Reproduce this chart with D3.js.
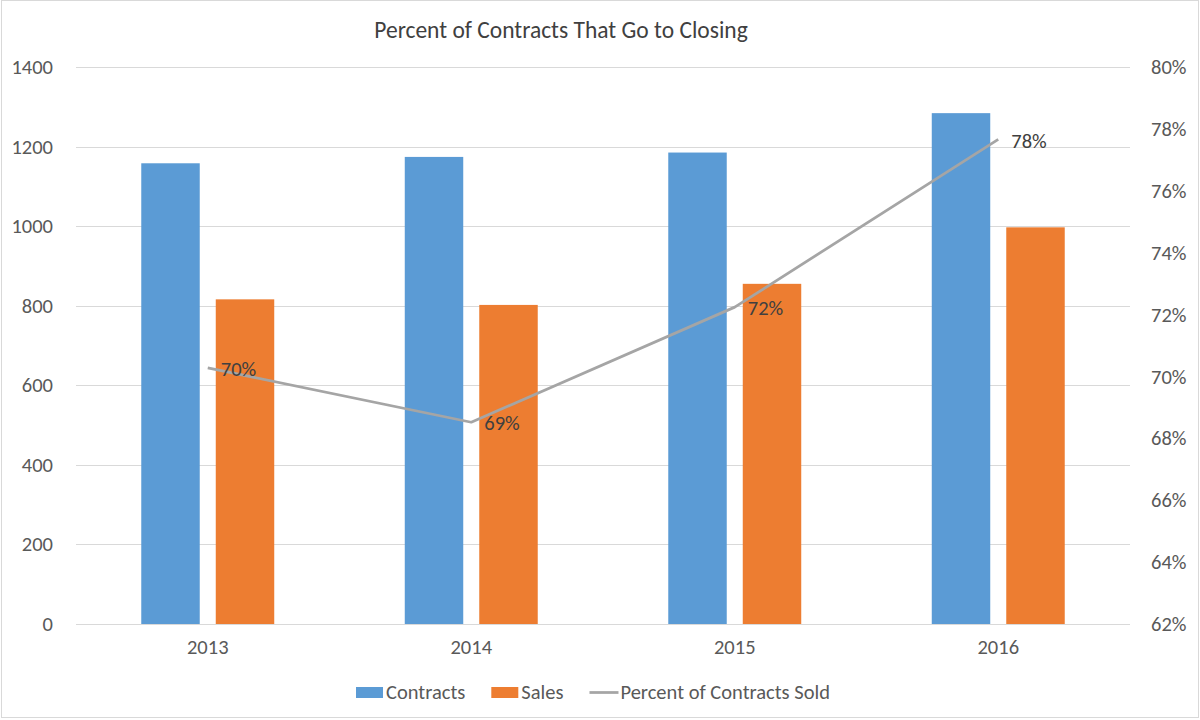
<!DOCTYPE html>
<html>
<head>
<meta charset="utf-8">
<script src="https://cdn.jsdelivr.net/npm/d3@7"></script>
<style>
  body { margin: 0; background: #fff; }
  svg text { font-family: Calibri, Carlito, Lato, sans-serif; }
</style>
</head>
<body>
<div id="chart"></div>
<script>
// data
let years = ["2013", "2014", "2015", "2016"];
let contracts = [1158, 1174, 1185, 1284];
let sales = [816, 802, 855, 997];
let percentSold = [0.7028, 0.6852, 0.7224, 0.7766];
let leftTicks = [0, 200, 400, 600, 800, 1000, 1200, 1400];
let rightTicks = [0.62, 0.64, 0.66, 0.68, 0.70, 0.72, 0.74, 0.76, 0.78, 0.80];
let seriesNames = ["Contracts", "Sales", "Percent of Contracts Sold"];

let width = 1200, height = 720;
let margin = {top: 67, right: 70, bottom: 96, left: 76};
let blue = "#5B9BD5", orange = "#ED7D31", gray = "#A5A5A5";
let gridColor = "#D9D9D9", tickColor = "#595959";
let fontSize = "20.5px";

let svg = d3.select("#chart")
  .append("svg")
  .attr("width", width)
  .attr("height", height);

// outer chart border
svg.append("rect")
  .attr("x", 1.5).attr("y", 0.5)
  .attr("width", width - 3).attr("height", height - 3)
  .attr("fill", "#fff")
  .attr("stroke", gridColor);

let x0 = d3.scaleBand()
  .domain(years)
  .range([margin.left, width - margin.right]);

let x1 = d3.scaleBand()
  .domain(["contracts", "sales"])
  .range([0, x0.bandwidth()])
  .paddingInner(0.215)
  .paddingOuter(0.876);

let y = d3.scaleLinear()
  .domain([0, 1400])
  .range([height - margin.bottom, margin.top]);

let y2 = d3.scaleLinear()
  .domain([0.62, 0.80])
  .range([height - margin.bottom, margin.top]);

// gridlines
svg.append("g")
  .selectAll("line")
  .data(leftTicks)
  .enter().append("line")
  .attr("x1", margin.left)
  .attr("x2", width - margin.right)
  .attr("y1", d => Math.round(y(d)) + 0.5)
  .attr("y2", d => Math.round(y(d)) + 0.5)
  .attr("stroke", gridColor)
  .attr("stroke-width", 1);

// left axis
let leftAxis = svg.append("g")
  .attr("transform", "translate(" + (margin.left - 23) + ",0)")
  .call(d3.axisLeft(y).tickValues(leftTicks).tickFormat(d3.format("d")).tickSize(0).tickPadding(0));
leftAxis.select(".domain").remove();
leftAxis.selectAll("text")
  .attr("fill", tickColor)
  .style("font-size", fontSize);

// right axis
let rightAxis = svg.append("g")
  .attr("transform", "translate(" + (width - margin.right + 21) + ",0)")
  .call(d3.axisRight(y2).tickValues(rightTicks).tickFormat(d3.format(".0%")).tickSize(0).tickPadding(0));
rightAxis.select(".domain").remove();
rightAxis.selectAll("text")
  .attr("fill", tickColor)
  .style("font-size", fontSize);

// bottom axis labels
let bottomAxis = svg.append("g")
  .attr("transform", "translate(0," + (height - margin.bottom + 15) + ")")
  .call(d3.axisBottom(x0).tickSize(0).tickPadding(0));
bottomAxis.select(".domain").remove();
bottomAxis.selectAll("text")
  .attr("fill", tickColor)
  .attr("dy", "0.75em")
  .style("font-size", fontSize);

// bars
let groups = svg.append("g")
  .selectAll("g")
  .data(years)
  .enter().append("g")
  .attr("transform", d => "translate(" + x0(d) + ",0)");

groups.append("rect")
  .attr("x", x1("contracts"))
  .attr("width", x1.bandwidth())
  .attr("y", (d, i) => y(contracts[i]))
  .attr("height", (d, i) => y(0) - y(contracts[i]))
  .attr("fill", blue);

groups.append("rect")
  .attr("x", x1("sales"))
  .attr("width", x1.bandwidth())
  .attr("y", (d, i) => y(sales[i]))
  .attr("height", (d, i) => y(0) - y(sales[i]))
  .attr("fill", orange);

// percent line
let cx = d => x0(d) + x0.bandwidth() / 2;
let line = d3.line()
  .x((d, i) => cx(years[i]))
  .y(d => y2(d));

svg.append("path")
  .datum(percentSold)
  .attr("d", line)
  .attr("fill", "none")
  .attr("stroke", gray)
  .attr("stroke-width", 2.75)
  .attr("stroke-linejoin", "round");

svg.append("g")
  .selectAll("text")
  .data(percentSold)
  .enter().append("text")
  .attr("x", (d, i) => cx(years[i]) + 13)
  .attr("y", d => y2(d) + 1)
  .attr("dy", "0.35em")
  .attr("fill", "#404040")
  .style("font-size", fontSize)
  .text(d => d3.format(".0%")(d));

// title
svg.append("text")
  .attr("x", 561)
  .attr("y", 38)
  .attr("text-anchor", "middle")
  .attr("fill", "#404040")
  .style("font-size", "23.5px")
  .text("Percent of Contracts That Go to Closing");

// legend
let legend = svg.append("g");
let lx = 0;
seriesNames.forEach(function(name, i) {
  let item = legend.append("g").attr("transform", "translate(" + lx + ",0)");
  if (i < 2) {
    item.append("rect")
      .attr("x", 0).attr("y", -5)
      .attr("width", 27).attr("height", 11)
      .attr("fill", i === 0 ? blue : orange);
  } else {
    item.append("line")
      .attr("x1", 0).attr("x2", 29)
      .attr("y1", 0.5).attr("y2", 0.5)
      .attr("stroke", gray)
      .attr("stroke-width", 2.75);
  }
  let t = item.append("text")
    .attr("x", i < 2 ? 30 : 31)
    .attr("dy", "0.35em")
    .attr("fill", tickColor)
    .style("font-size", fontSize)
    .text(name);
  lx += (i < 2 ? 30 : 31) + t.node().getComputedTextLength() + 26;
});
let legendWidth = lx - 26;
legend.attr("transform", "translate(" + (593 - legendWidth / 2) + ",692)");
</script>
</body>
</html>
